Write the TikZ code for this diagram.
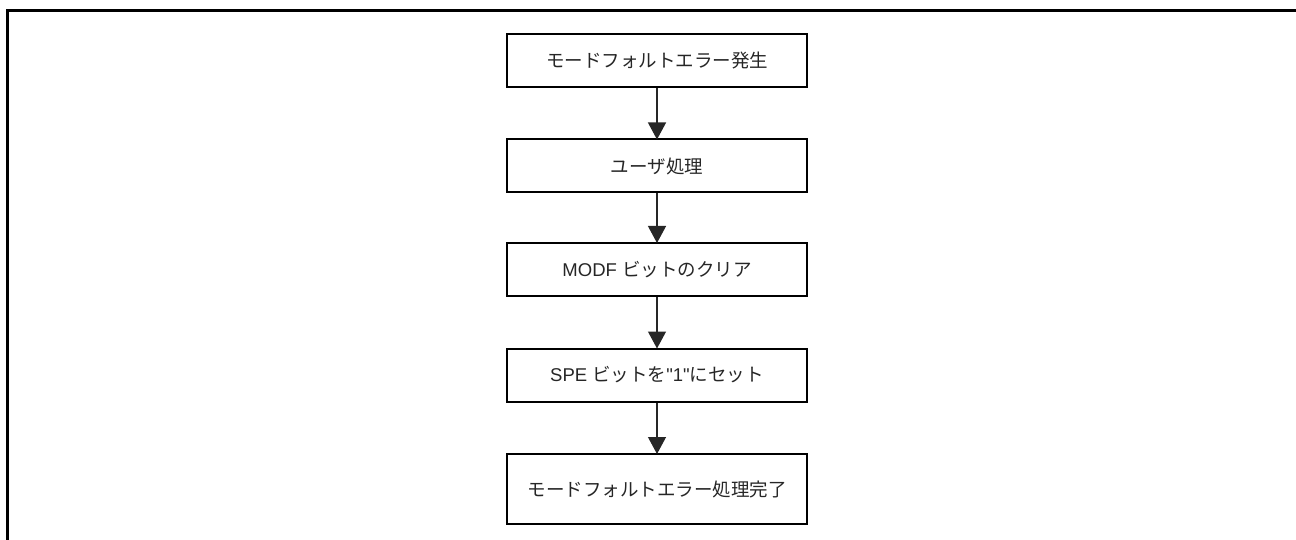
\documentclass[tikz,border=0pt]{standalone}
\usepackage{fontspec}
\setmainfont{Liberation Sans}[Ligatures=TeXOff]
\newfontfamily\jpfont{Noto Sans CJK JP}
\newcommand{\jp}[1]{{\jpfont #1}}
\usetikzlibrary{arrows.meta}
\tikzset{
  stepbox/.style={draw=black, line width=2pt, minimum width=300pt, minimum height=53pt, inner sep=0pt, font=\fontsize{18.5pt}{21pt}\selectfont, text=black!85},
  flowarrow/.style={draw=black!85, line width=1.2pt, -{Triangle[width=18pt,length=17pt]}, shorten >=-1pt},
  frameline/.style={draw=black, line width=3pt}
}
\begin{document}
\begin{tikzpicture}[x=1pt,y=-1pt]
\useasboundingbox (0,0) rectangle (1296,540);
\draw[frameline] (7,540) -- (7,11) -- (1296,11);
\node[stepbox] (b1) at (657,60.5) {\jp{モードフォルトエラー発生}};
\node[stepbox] (b2) at (657,166) {\jp{ユーザ処理}};
\node[stepbox] (b3) at (657,269.5) {MODF \jp{ビットのクリア}};
\node[stepbox] (b4) at (657,375) {SPE \jp{ビットを}"1"\jp{にセット}};
\node[stepbox, minimum height=70pt] (b5) at (657,489) {\jp{モードフォルトエラー処理完了}};
\draw[flowarrow] (b1) -- (b2);
\draw[flowarrow] (b2) -- (b3);
\draw[flowarrow] (b3) -- (b4);
\draw[flowarrow] (b4) -- (b5);
\end{tikzpicture}
\end{document}
